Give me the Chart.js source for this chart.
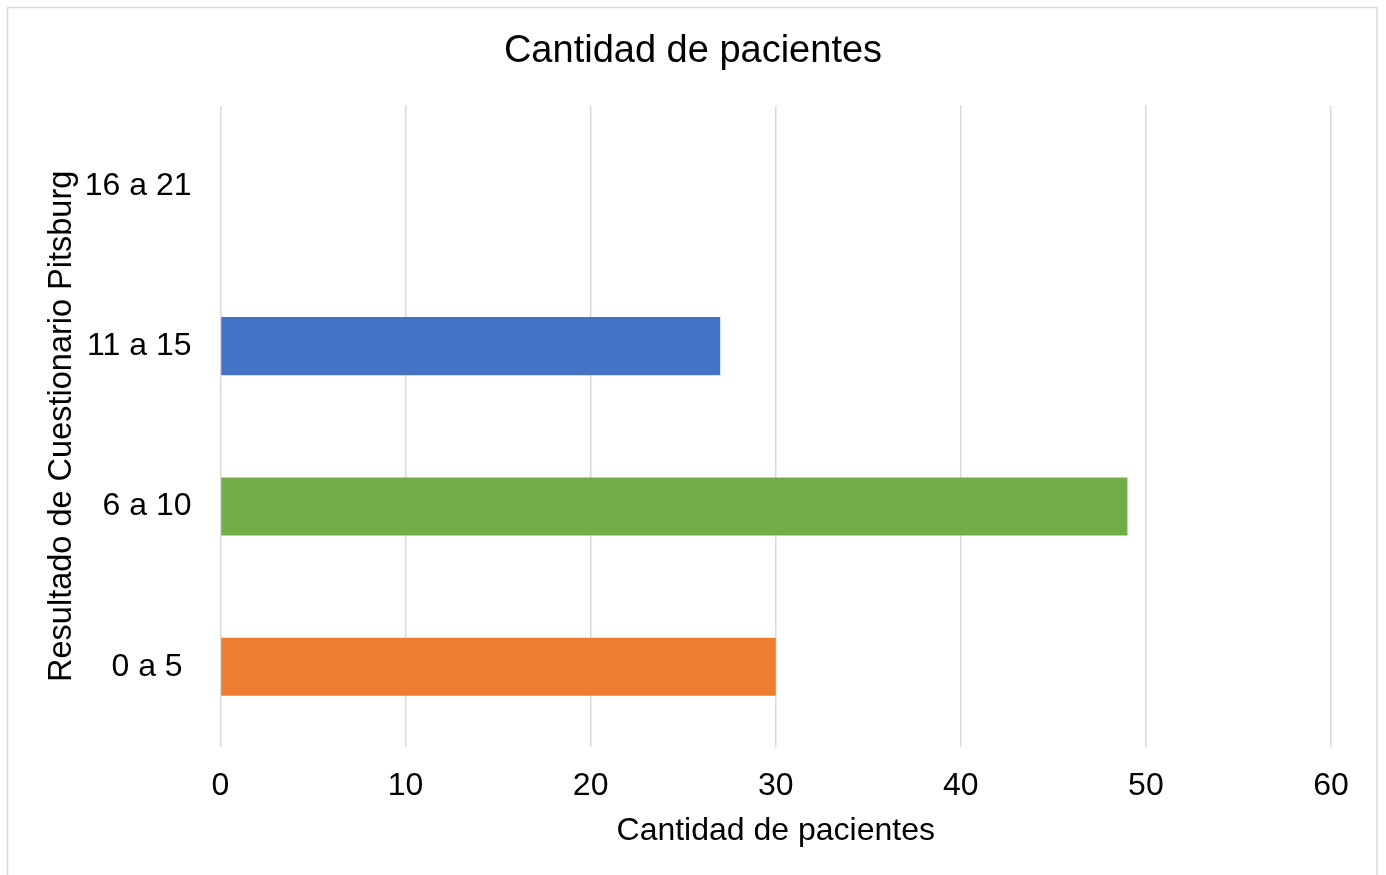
<!DOCTYPE html>
<html>
<head>
<meta charset="utf-8">
<script src="https://cdn.jsdelivr.net/npm/chart.js@4/dist/chart.umd.min.js"></script>
<style>
  html, body { margin: 0; padding: 0; background: #ffffff; }
  #wrap { width: 1386px; height: 875px; position: relative; }
</style>
</head>
<body>
<div id="wrap"><canvas id="chart" width="1386" height="875"></canvas></div>
<script>
// Puntaje del cuestionario de Pittsburgh por rango
const categories = ['0 a 5 ', '6 a 10', '11 a 15', '16 a 21'];
const patients = [30, 49, 27, 0];
const barColors = ['#ED7D31', '#70AD47', '#4472C4', '#FFC000'];
const xTicks = [0, 10, 20, 30, 40, 50, 60];

const chartTitle = 'Cantidad de pacientes';
const xTitle = 'Cantidad de pacientes';
const yTitle = 'Resultado de Cuestionario Pitsburg';

const FONT = "'Liberation Sans', Arial, sans-serif";

// Light outline around the whole chart
const frame = {
  id: 'frame',
  beforeDraw(chart) {
    const ctx = chart.ctx;
    ctx.save();
    ctx.fillStyle = '#ffffff';
    ctx.fillRect(0, 0, chart.width, chart.height);
    ctx.strokeStyle = '#d9d9d9';
    ctx.lineWidth = 1.5;
    ctx.strokeRect(7.5, 7.5, 1369.5, 1000);
    ctx.restore();
  }
};

new Chart(document.getElementById('chart'), {
  type: 'bar',
  data: {
    labels: categories,
    datasets: [{
      label: chartTitle,
      data: patients,
      backgroundColor: barColors,
      borderWidth: 0,
      barPercentage: 0.362,
      categoryPercentage: 1.0
    }]
  },
  options: {
    indexAxis: 'y',
    responsive: false,
    animation: false,
    layout: { padding: 0 },
    plugins: {
      legend: { display: false },
      tooltip: { enabled: false },
      title: {
        display: true,
        text: chartTitle,
        color: '#000000',
        font: { family: FONT, size: 38, weight: 'normal' },
        padding: { top: 29, bottom: 31 }
      }
    },
    scales: {
      x: {
        type: 'linear',
        min: 0,
        max: 60,
        afterBuildTicks(scale) { scale.ticks = xTicks.map(v => ({ value: v })); },
        afterFit(scale) { scale.height = 128; },
        grid: { color: '#d9d9d9', lineWidth: 1.5, drawTicks: false },
        border: { display: false },
        ticks: {
          color: '#000000',
          padding: 20,
          font: { family: FONT, size: 32 }
        },
        title: {
          display: true,
          text: xTitle,
          color: '#000000',
          font: { family: FONT, size: 32 },
          padding: { top: 0, bottom: 25 }
        }
      },
      y: {
        type: 'category',
        reverse: true,
        afterFit(scale) { scale.width = 220.5; },
        grid: { display: false },
        border: { display: false },
        ticks: {
          color: '#000000',
          padding: 21,
          font: { family: FONT, size: 32 }
        },
        title: {
          display: true,
          text: yTitle,
          color: '#000000',
          font: { family: FONT, size: 32.5 },
          padding: { top: 43, bottom: 0 }
        }
      },
      yRight: {
        type: 'category',
        position: 'right',
        labels: categories,
        afterFit(scale) { scale.width = 55; },
        grid: { display: false },
        border: { display: false },
        ticks: { display: false }
      }
    }
  },
  plugins: [frame]
});
</script>
</body>
</html>
